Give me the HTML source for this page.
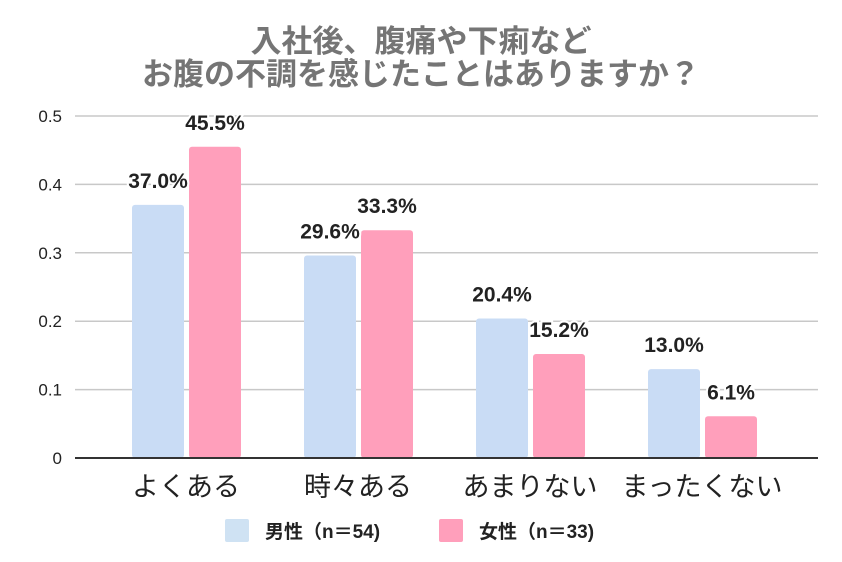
<!DOCTYPE html>
<html><head><meta charset="utf-8"><style>
html,body{margin:0;padding:0;background:#fff;}
svg{display:block;font-family:"Liberation Sans","Noto Sans CJK JP",sans-serif;}
</style></head><body>
<svg id="chart" width="842" height="562">
<text x="421" y="52" text-anchor="middle" font-size="31" font-weight="bold" fill="#757575">入社後、腹痛や下痢など</text>
<text x="421" y="85" text-anchor="middle" font-size="31" font-weight="bold" fill="#757575">お腹の不調を感じたことはありますか？</text>
<g id="grid"></g><g id="bars"></g><g id="labels"></g>
<line x1="75" x2="818" y1="458" y2="458" stroke="#333" stroke-width="2"/>
<rect x="225" y="519" width="24" height="23" rx="2" fill="#cfe2f3"/>
<text x="265" y="538" font-size="19" font-weight="bold" fill="#222">男性（n＝54)</text>
<rect x="439" y="519" width="24" height="23" rx="2" fill="#ff9fbb"/>
<text x="479" y="538" font-size="19" font-weight="bold" fill="#222">女性（n＝33)</text>
</svg>
<script>
const categories=["よくある","時々ある","あまりない","まったくない"];
const maleValues=[0.370,0.296,0.204,0.130];
const femaleValues=[0.455,0.333,0.152,0.061];
const yTicks=[0,0.1,0.2,0.3,0.4,0.5];
const yTickLabels=["0","0.1","0.2","0.3","0.4","0.5"];
const NS="http://www.w3.org/2000/svg";
const y0=458,yTop=116,ymax=0.5;
function y(v){return y0-(v/ymax)*(y0-yTop);}
function gx(i){return 186+i*172;}
function mk(t,a,p){const e=document.createElementNS(NS,t);for(const k in a)e.setAttribute(k,a[k]);p.appendChild(e);return e;}
const grid=document.getElementById('grid'),bars=document.getElementById('bars'),labels=document.getElementById('labels');
yTicks.forEach((t,i)=>{
 if(t>0){const l=mk('line',{x1:75,x2:818,y1:y(t),y2:y(t),stroke:'#c8c8c8','stroke-width':1.5},grid);
 
 }
 const tx=mk('text',{x:62,y:y(t)+6,'text-anchor':'end','font-size':17,fill:'#222'},grid);
 tx.textContent=yTickLabels[i];
 
 
});
function bar(x,v,col,name){
 const r=mk('rect',{x:x,y:y(v),width:52,height:y0-y(v),fill:col,rx:3},bars);
 
 
 const t=mk('text',{x:x+26,y:y(v)-17,'text-anchor':'middle','font-size':21,'font-weight':'bold',fill:'#222',stroke:'#fff','stroke-width':4,'paint-order':'stroke'},labels);
 t.textContent=(v*100).toFixed(1)+'%';
 
 
}
categories.forEach((c,i)=>{
 bar(gx(i)-54,maleValues[i],'#c9dcf5','bar-male');
 bar(gx(i)+3,femaleValues[i],'#ff9fbb','bar-female');
 const t=mk('text',{x:gx(i),y:496,'text-anchor':'middle','font-size':27,fill:'#222'},labels);
 t.textContent=c;
 
 
});
</script>
</body></html>
